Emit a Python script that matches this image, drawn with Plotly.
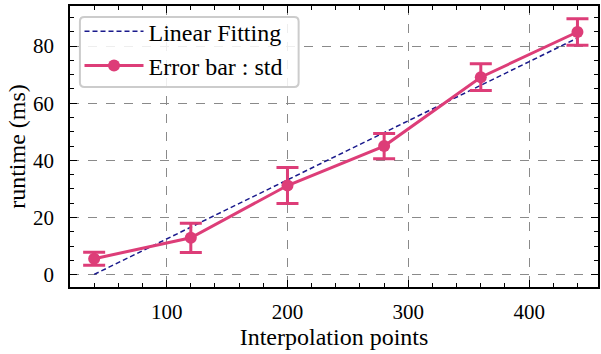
import numpy as np
import plotly.graph_objects as go

# Data
x_points = [40, 120, 200, 280, 360, 440]
runtime_mean = [5.6, 12.9, 31.2, 45.0, 69.1, 84.9]
runtime_std = [2.3, 5.1, 6.3, 4.4, 4.7, 4.6]

x_ticks = [100, 200, 300, 400]
y_ticks = [0, 20, 40, 60, 80]

slope, intercept = np.polyfit(x_points, runtime_mean, 1)
fit_y = [slope * xv + intercept for xv in x_points]

PINK = "#dd3d78"
NAVY = "#1a1a8c"
FONT = "Liberation Serif, Times New Roman, serif"
FS_TICK = 21
FS_TITLE = 24

X_RANGE = [20, 457]
Y_RANGE = [-4.3, 94.0]

fig = go.Figure()
fig.add_trace(go.Scatter(
    x=x_points, y=fit_y, mode="lines", name="Linear Fitting",
    line=dict(color=NAVY, width=1.5, dash="5px,3px"),
))
fig.add_trace(go.Scatter(
    x=x_points, y=runtime_mean, mode="lines+markers", name="Error bar : std",
    line=dict(color=PINK, width=3),
    marker=dict(color=PINK, size=12),
    error_y=dict(type="data", array=runtime_std, visible=True,
                 color=PINK, thickness=3, width=11),
))
fig.add_trace(go.Scatter(x=[None], y=[None], xaxis="x2", yaxis="y2",
                         showlegend=False, hoverinfo="skip"))

tickstyle = dict(ticks="inside", ticklen=7, tickwidth=1.2, tickcolor="black")
minor_x = dict(dtick=20, tick0=0, ticks="inside", ticklen=4, tickcolor="black", showgrid=False)
minor_y = dict(dtick=5, tick0=0, ticks="inside", ticklen=4, tickcolor="black", showgrid=False)

# legend frame (rounded rectangle in paper coords)
bx0, bx1, by0, by1 = 0.0188, 0.433, 0.712, 0.961
rx, ry = 0.0085, 0.016
frame_path = (
    f"M {bx0+rx},{by0} L {bx1-rx},{by0} Q {bx1},{by0} {bx1},{by0+ry} "
    f"L {bx1},{by1-ry} Q {bx1},{by1} {bx1-rx},{by1} "
    f"L {bx0+rx},{by1} Q {bx0},{by1} {bx0},{by1-ry} "
    f"L {bx0},{by0+ry} Q {bx0},{by0} {bx0+rx},{by0} Z"
)

fig.update_layout(
    width=601, height=354,
    margin=dict(l=70, r=1, t=6, b=67),
    plot_bgcolor="white", paper_bgcolor="white",
    font=dict(family=FONT, size=FS_TICK, color="black"),
    xaxis=dict(
        range=X_RANGE, tickvals=x_ticks, minor=minor_x,
        showline=True, linecolor="black", linewidth=1.5, mirror=True,
        showgrid=True, gridcolor="#8a8a8a", griddash="dash", gridwidth=1,
        zeroline=False, tickfont=dict(family=FONT, size=FS_TICK, color="black"),
        ticklabelstandoff=5,
        title=dict(text="Interpolation points", font=dict(family=FONT, size=FS_TITLE, color="black"), standoff=5),
        **tickstyle,
    ),
    yaxis=dict(
        range=Y_RANGE, tickvals=y_ticks, minor=minor_y,
        showline=True, linecolor="black", linewidth=1.5, mirror=True,
        showgrid=True, gridcolor="#8a8a8a", griddash="dash", gridwidth=1,
        zeroline=False, tickfont=dict(family=FONT, size=FS_TICK, color="black"),
        ticklabelstandoff=10,
        title=dict(text="runtime (ms)", font=dict(family=FONT, size=FS_TITLE, color="black"), standoff=1),
        **tickstyle,
    ),
    xaxis2=dict(
        overlaying="x", side="top", range=X_RANGE, tickvals=x_ticks, minor=minor_x,
        showticklabels=False, showgrid=False, zeroline=False, showline=False,
        **tickstyle,
    ),
    yaxis2=dict(
        overlaying="y", side="right", range=Y_RANGE, tickvals=y_ticks, minor=minor_y,
        showticklabels=False, showgrid=False, zeroline=False, showline=False,
        **tickstyle,
    ),
    shapes=[dict(
        type="path", path=frame_path, xref="paper", yref="paper", layer="above",
        fillcolor="rgba(255,255,255,0.85)", line=dict(color="#cccccc", width=2),
    )],
    legend=dict(
        x=0.018, y=0.989, xanchor="left", yanchor="top",
        bgcolor="rgba(0,0,0,0)", borderwidth=0,
        font=dict(family=FONT, size=FS_TITLE, color="black"),
        itemwidth=59,
    ),
)

fig.write_html("out.html")
